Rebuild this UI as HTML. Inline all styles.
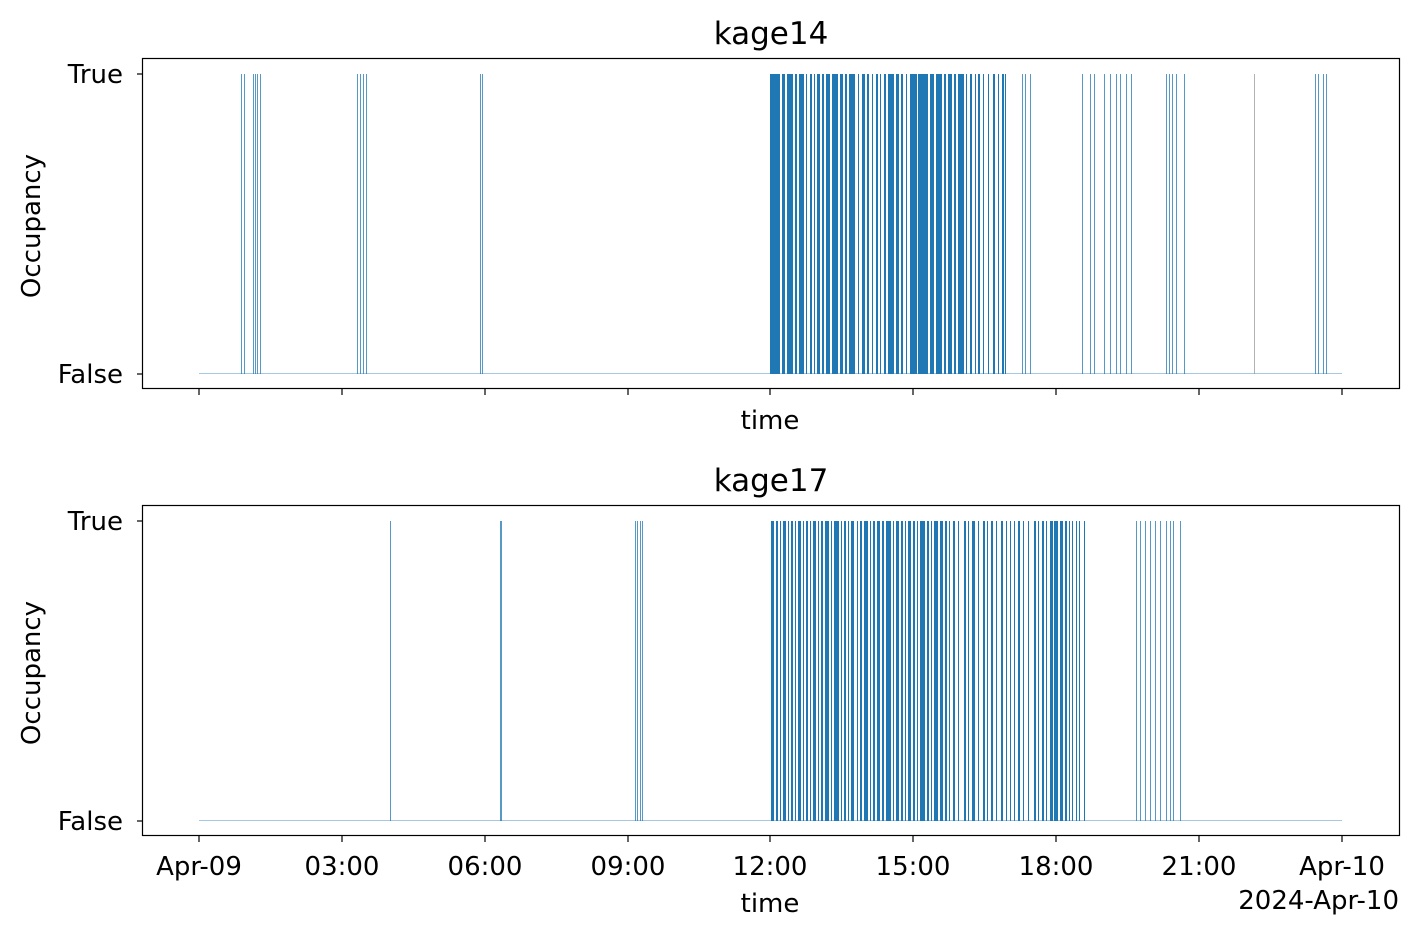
<!DOCTYPE html>
<html><head><meta charset="utf-8"><style>
body{margin:0;background:#fff}
svg{display:block;font-family:"DejaVu Sans","Liberation Sans",sans-serif}
</style></head><body>
<svg width="1419" height="936" viewBox="0 0 1419 936" xmlns="http://www.w3.org/2000/svg">
<rect width="1419" height="936" fill="#fff"/>
<!-- TOP -->
<g fill="#1f77b4">
<line x1="199" y1="373.5" x2="1342" y2="373.5" stroke="#a6c8e0" stroke-width="1"/>
<g transform="translate(0,74)">
<g opacity="0.75">
<rect x="241" width="1" height="300"/><rect x="244" width="1" height="300"/><rect x="253" width="1" height="300"/><rect x="255" width="1" height="300"/><rect x="257" width="1" height="300"/><rect x="260" width="1" height="300"/>
<rect x="357" width="1" height="300"/><rect x="360" width="1" height="300"/><rect x="363" width="1" height="300"/><rect x="366" width="1" height="300"/>
<rect x="480" width="1" height="300"/><rect x="482" width="1" height="300"/>
<rect x="1022" width="1" height="300"/><rect x="1025" width="1" height="300"/><rect x="1030" width="1" height="300"/>
<rect x="1082" width="1" height="300"/><rect x="1090" width="1" height="300"/><rect x="1094" width="1" height="300"/><rect x="1104" width="1" height="300"/><rect x="1110" width="1" height="300"/><rect x="1116" width="1" height="300"/><rect x="1120" width="1" height="300"/><rect x="1126" width="1" height="300"/><rect x="1131" width="1" height="300"/>
<rect x="1166" width="1" height="300"/><rect x="1169" width="1" height="300"/><rect x="1172" width="1" height="300"/><rect x="1176" width="1" height="300"/><rect x="1184" width="1" height="300"/>
<rect x="1254" width="1" height="300" fill="#999"/>
<rect x="1315" width="1" height="300"/><rect x="1318" width="1" height="300"/><rect x="1323" width="1" height="300"/><rect x="1326" width="1" height="300"/>
</g>
<rect x="770" width="10" height="300"/><rect x="782" width="3" height="300"/><rect x="787" width="6" height="300"/><rect x="795" width="2" height="300"/><rect x="799" width="5" height="300"/><rect x="806" width="1" height="300"/><rect x="810" width="2" height="300"/><rect x="814" width="1" height="300"/><rect x="817" width="3" height="300"/><rect x="822" width="2" height="300"/><rect x="826" width="4" height="300"/><rect x="832" width="6" height="300"/><rect x="840" width="3" height="300"/><rect x="845" width="2" height="300"/><rect x="849" width="6" height="300"/><rect x="858" width="1" height="300"/><rect x="862" width="3" height="300"/><rect x="867" width="2" height="300"/><rect x="872" width="1" height="300"/><rect x="876" width="2" height="300"/><rect x="880" width="1" height="300"/><rect x="884" width="2" height="300"/><rect x="888" width="6" height="300"/><rect x="896" width="3" height="300"/><rect x="901" width="2" height="300"/><rect x="906" width="1" height="300"/><rect x="910" width="7" height="300"/><rect x="918" width="10" height="300"/><rect x="930" width="4" height="300"/><rect x="936" width="6" height="300"/><rect x="944" width="2" height="300"/><rect x="948" width="4" height="300"/><rect x="954" width="2" height="300"/><rect x="958" width="6" height="300"/><rect x="966" width="1" height="300"/><rect x="970" width="2" height="300"/><rect x="975" width="1" height="300"/><rect x="978" width="2" height="300"/><rect x="983" width="1" height="300"/><rect x="988" width="1" height="300"/><rect x="993" width="2" height="300"/><rect x="998" width="1" height="300"/><rect x="1002" width="2" height="300"/><rect x="1005" width="1" height="300"/>
</g>
</g>
<rect x="142.5" y="58.5" width="1257" height="330" fill="none" stroke="#000" stroke-width="1.2"/>
<g stroke="#000" stroke-width="1.2">
<line x1="142" y1="74" x2="137" y2="74"/><line x1="142" y1="374" x2="137" y2="374"/>
<line x1="199" y1="389" x2="199" y2="395"/><line x1="342" y1="389" x2="342" y2="395"/><line x1="485" y1="389" x2="485" y2="395"/><line x1="628" y1="389" x2="628" y2="395"/><line x1="770" y1="389" x2="770" y2="395"/><line x1="913" y1="389" x2="913" y2="395"/><line x1="1056" y1="389" x2="1056" y2="395"/><line x1="1199" y1="389" x2="1199" y2="395"/><line x1="1342" y1="389" x2="1342" y2="395"/>
</g>
<g font-size="26" fill="#000">
<text x="771" y="44" text-anchor="middle" font-size="31">kage14</text>
<text x="123" y="83" text-anchor="end">True</text>
<text x="123" y="383" text-anchor="end">False</text>
<text x="770" y="429" text-anchor="middle">time</text>
<text transform="translate(40,226) rotate(-90)" text-anchor="middle">Occupancy</text>
</g>
<!-- BOTTOM -->
<g fill="#1f77b4">
<line x1="199" y1="820.5" x2="1342" y2="820.5" stroke="#a6c8e0" stroke-width="1"/>
<g transform="translate(0,521)">
<g opacity="0.75">
<rect x="390" width="1" height="300"/><rect x="500" width="2" height="300"/>
<rect x="635" width="1" height="300"/><rect x="637" width="1" height="300"/><rect x="640" width="1" height="300"/><rect x="642" width="1" height="300"/>
<rect x="1136" width="1" height="300"/><rect x="1140" width="1" height="300"/><rect x="1145" width="1" height="300"/><rect x="1150" width="1" height="300"/><rect x="1155" width="1" height="300"/><rect x="1160" width="1" height="300"/><rect x="1166" width="1" height="300"/><rect x="1170" width="1" height="300"/><rect x="1173" width="1" height="300"/><rect x="1180" width="1" height="300"/>
</g>
<rect x="771" width="3" height="300"/><rect x="776" width="2" height="300"/><rect x="780" width="1" height="300"/><rect x="783" width="3" height="300"/><rect x="788" width="1" height="300"/><rect x="791" width="2" height="300"/><rect x="795" width="1" height="300"/><rect x="798" width="3" height="300"/><rect x="803" width="1" height="300"/><rect x="806" width="2" height="300"/><rect x="810" width="1" height="300"/><rect x="813" width="3" height="300"/><rect x="818" width="1" height="300"/><rect x="821" width="2" height="300"/><rect x="825" width="4" height="300"/><rect x="831" width="1" height="300"/><rect x="834" width="5" height="300"/><rect x="841" width="1" height="300"/><rect x="844" width="2" height="300"/><rect x="848" width="1" height="300"/><rect x="851" width="3" height="300"/><rect x="857" width="1" height="300"/><rect x="860" width="2" height="300"/><rect x="864" width="4" height="300"/><rect x="870" width="1" height="300"/><rect x="873" width="2" height="300"/><rect x="877" width="3" height="300"/><rect x="882" width="2" height="300"/><rect x="886" width="5" height="300"/><rect x="893" width="1" height="300"/><rect x="896" width="3" height="300"/><rect x="901" width="2" height="300"/><rect x="905" width="1" height="300"/><rect x="908" width="3" height="300"/><rect x="913" width="2" height="300"/><rect x="917" width="1" height="300"/><rect x="920" width="5" height="300"/><rect x="927" width="2" height="300"/><rect x="931" width="1" height="300"/><rect x="934" width="4" height="300"/><rect x="940" width="3" height="300"/><rect x="945" width="2" height="300"/><rect x="949" width="1" height="300"/><rect x="953" width="2" height="300"/><rect x="958" width="1" height="300"/><rect x="964" width="2" height="300"/><rect x="968" width="1" height="300"/><rect x="972" width="3" height="300"/><rect x="978" width="1" height="300"/><rect x="983" width="2" height="300"/><rect x="987" width="1" height="300"/><rect x="991" width="2" height="300"/><rect x="996" width="1" height="300"/><rect x="1001" width="2" height="300"/><rect x="1006" width="1" height="300"/><rect x="1010" width="1" height="300"/><rect x="1014" width="1" height="300"/><rect x="1018" width="2" height="300"/><rect x="1023" width="1" height="300"/><rect x="1028" width="1" height="300"/><rect x="1034" width="2" height="300"/><rect x="1038" width="1" height="300"/><rect x="1042" width="2" height="300"/><rect x="1046" width="1" height="300"/><rect x="1050" width="3" height="300"/><rect x="1054" width="4" height="300"/><rect x="1060" width="3" height="300"/><rect x="1065" width="2" height="300"/><rect x="1069" width="1" height="300"/><rect x="1072" width="1" height="300"/><rect x="1076" width="1" height="300"/><rect x="1079" width="1" height="300"/><rect x="1084" width="1" height="300"/>
</g>
</g>
<rect x="142.5" y="505.5" width="1257" height="330" fill="none" stroke="#000" stroke-width="1.2"/>
<g stroke="#000" stroke-width="1.2">
<line x1="142" y1="521" x2="137" y2="521"/><line x1="142" y1="821" x2="137" y2="821"/>
<line x1="199" y1="836" x2="199" y2="842"/><line x1="342" y1="836" x2="342" y2="842"/><line x1="485" y1="836" x2="485" y2="842"/><line x1="628" y1="836" x2="628" y2="842"/><line x1="770" y1="836" x2="770" y2="842"/><line x1="913" y1="836" x2="913" y2="842"/><line x1="1056" y1="836" x2="1056" y2="842"/><line x1="1199" y1="836" x2="1199" y2="842"/><line x1="1342" y1="836" x2="1342" y2="842"/>
</g>
<g font-size="26" fill="#000">
<text x="771" y="491" text-anchor="middle" font-size="31">kage17</text>
<text x="123" y="530" text-anchor="end">True</text>
<text x="123" y="830" text-anchor="end">False</text>
<g text-anchor="middle">
<text x="199" y="875">Apr-09</text><text x="342" y="875">03:00</text><text x="485" y="875">06:00</text><text x="628" y="875">09:00</text><text x="770" y="875">12:00</text><text x="913" y="875">15:00</text><text x="1056" y="875">18:00</text><text x="1199" y="875">21:00</text><text x="1342" y="875">Apr-10</text>
</g>
<text x="1399" y="909" text-anchor="end">2024-Apr-10</text>
<text x="770" y="912" text-anchor="middle">time</text>
<text transform="translate(40,673) rotate(-90)" text-anchor="middle">Occupancy</text>
</g>
</svg>
</body></html>
